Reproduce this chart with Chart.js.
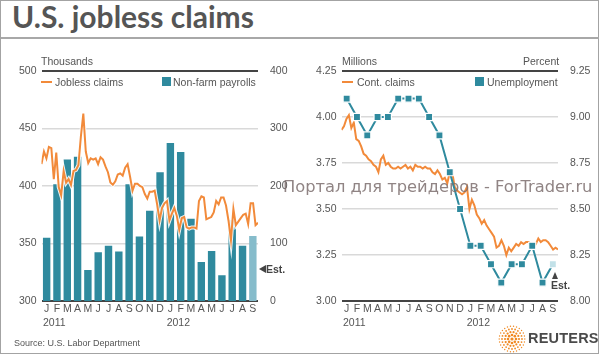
<!DOCTYPE html>
<html><head><meta charset="utf-8">
<script src="https://cdn.jsdelivr.net/npm/chart.js@4.4.1/dist/chart.umd.min.js"></script>
<style>
html,body{margin:0;padding:0;background:#fff;}
#wrap{position:relative;width:600px;height:355px;overflow:hidden;font-family:'Liberation Sans',Arial,sans-serif;color:#555;}
#frame{position:absolute;left:0;top:0;width:597px;height:352px;border:1.5px solid #a3a3a3;box-sizing:content-box;}
#title{position:absolute;left:12px;top:-2px;font:bold 30px 'Lato';color:#555;white-space:nowrap;}
#rule{position:absolute;left:1px;top:37px;width:598px;height:1.5px;background:#a8a8a8;}
.t{position:absolute;font-size:10.5px;line-height:12px;white-space:nowrap;color:#555;}
.dash{position:absolute;height:2px;width:11px;background:#f28a3a;}
.sq{position:absolute;width:9px;height:9px;background:#2f8a9e;}
canvas{position:absolute;}
#wm{position:absolute;left:283px;top:177px;font:16.3px 'DejaVu Sans';color:rgba(125,110,110,0.85);white-space:nowrap;}
.est{position:absolute;font:bold 10.5px 'Liberation Sans';color:#444;line-height:12px;}
#reuters{position:absolute;left:528px;top:330px;font:bold 14.5px 'Liberation Sans';color:#4a4a4a;letter-spacing:0.2px;}
</style>
</head><body>
<div id="wrap">
  <div id="frame"></div>
  <div id="title">U.S. jobless claims</div>
  <div id="rule"></div>
  <canvas id="cL" width="300" height="290" style="left:0;top:48px;"></canvas>
  <canvas id="cR" width="300" height="290" style="left:300px;top:48px;"></canvas>

  <div class="t" style="left:41px;top:55px;">Thousands</div>
  <div class="dash" style="left:41px;top:81px;"></div>
  <div class="t" style="left:55px;top:76px;">Jobless claims</div>
  <div class="sq" style="left:162px;top:77px;"></div>
  <div class="t" style="left:173px;top:76px;">Non-farm payrolls</div>

  <div class="t" style="left:342px;top:55px;">Millions</div>
  <div class="t" style="left:523px;top:55px;">Percent</div>
  <div class="dash" style="left:342px;top:81px;"></div>
  <div class="t" style="left:357px;top:76px;">Cont. claims</div>
  <div class="sq" style="left:475px;top:77px;"></div>
  <div class="t" style="left:487px;top:76px;">Unemployment</div>

  <div style="position:absolute;left:259px;top:265px;width:0;height:0;border-top:4px solid transparent;border-bottom:4px solid transparent;border-right:7px solid #444;"></div>
  <div class="est" style="left:266px;top:263px;">Est.</div>
  <div style="position:absolute;left:552px;top:272px;width:0;height:0;border-left:3.5px solid transparent;border-right:3.5px solid transparent;border-bottom:7px solid #444;"></div>
  <div class="est" style="left:551px;top:279px;">Est.</div>

  <div class="t" style="left:14px;top:337px;font-size:9px;">Source: U.S. Labor Department</div>
  <canvas id="logo" width="28" height="28" style="left:498px;top:325px;"></canvas>
  <div id="reuters">REUTERS</div>
  <div id="wm">Портал для трейдеров - ForTrader.ru</div>
</div>
<script>
// ---- data ----
const months = ['J','F','M','A','M','J','J','A','S','O','N','D','J','F','M','A','M','J','J','A','S'];
const yearLabels = ['2011','','','','','','','','','','','','2012','','','','','','','',''];
// Non-farm payrolls (thousands), last = estimate
const payrolls = [110,203,246,251,54,85,96,86,203,112,157,224,275,259,143,68,87,45,141,96,113];
// Weekly initial jobless claims (thousands)
const joblessClaims = [419,430,424,434,433,406,429,399,392,413,
403,406,401,413,414,418,443,463,430,420,
424,423,424,419,425,423,417,412,403,401,
404,410,411,409,416,419,408,396,402,402,
400,399,393,389,395,395,396,384,370,381,
385,387,370,376,381,374,362,372,373,364,
363,364,364,363,387,391,390,371,372,373,
377,387,384,390,390,383,370,353,380,366,
369,372,375,376,367,385,385,366,368];
// Weekly continuing claims (millions)
const contClaims = [3.93,3.95,3.99,4.01,3.94,3.97,3.88,3.87,3.84,3.80,
3.79,3.77,3.76,3.74,3.73,3.70,3.77,3.79,3.74,3.75,
3.73,3.72,3.72,3.73,3.72,3.73,3.74,3.72,3.73,3.71,
3.74,3.73,3.73,3.72,3.73,3.72,3.72,3.70,3.69,3.71,
3.69,3.66,3.67,3.64,3.70,3.70,3.62,3.60,3.59,3.58,
3.59,3.62,3.50,3.55,3.52,3.47,3.45,3.42,3.44,3.41,
3.39,3.37,3.35,3.29,3.30,3.33,3.30,3.25,3.29,3.27,
3.29,3.31,3.30,3.32,3.31,3.32,3.32,3.31,3.29,3.31,
3.34,3.32,3.33,3.33,3.32,3.30,3.28,3.29,3.28];
// Unemployment rate (%), last = estimate
const unemployment = [9.1,9.0,8.9,9.0,9.0,9.1,9.1,9.1,9.0,8.9,8.7,8.5,8.3,8.3,8.2,8.1,8.2,8.2,8.3,8.1,8.2];
const claimsTicks = {min:300,max:500,step:50};
const payrollTicks = {min:0,max:400,step:100};
const contTicks = {min:3.00,max:4.25,step:0.25};
const rateTicks = {min:8.00,max:9.25,step:0.25};

// ---- styles ----
const ORANGE='#f28a3a', TEAL='#2f8a9e', EST_BAR='#86bccb', EST_PT='#c2e1e8';
const DARK='#444', GRID='#d9d9d9', TXT='#555';
const FONT={family:"'Liberation Sans', Arial, sans-serif", size:10.5};

const yearPlugin = {id:'years', afterDraw(chart){
  const c=chart.ctx, xs=chart.scales.x;
  c.save(); c.font="10.5px 'Liberation Sans', Arial"; c.fillStyle=TXT;
  c.textAlign='left'; c.textBaseline='middle';
  yearLabels.forEach((t,i)=>{ if(t) c.fillText(t, xs.getPixelForValue(i)-3.7, chart.chartArea.bottom+22); });
  c.restore();
}};

function isEdge(c,t){return c.tick && (Math.abs(c.tick.value-t.min)<1e-6 || Math.abs(c.tick.value-t.max)<1e-6);}
function gridOpts(t){
  return {drawTicks:false,
    color:c=>isEdge(c,t)?DARK:GRID,
    lineWidth:c=>isEdge(c,t)?2:1.6};
}
function baseOpts(leftT,rightT,fmtL,fmtR,nWeeks){
  return {
    responsive:false, animation:false, devicePixelRatio:1,
    layout:{padding:{top:23,left:0,right:0,bottom:0}},
    plugins:{legend:{display:false},tooltip:{enabled:false}},
    scales:{
      x:{type:'category',offset:true,grid:{display:false,drawTicks:false},border:{display:false},
         ticks:{color:TXT,font:FONT,padding:2,maxRotation:0,autoSkip:false},
         afterFit:s=>{s.height=37;}},
      xw:{type:'linear',min:0,max:nWeeks-1,display:false},
      y:{position:'left',min:leftT.min,max:leftT.max,
         ticks:{stepSize:leftT.step,color:TXT,font:FONT,padding:5,callback:fmtL},
         grid:gridOpts(leftT),border:{display:false},afterFit:s=>{s.width=41.5;}},
      y2:{position:'right',min:rightT.min,max:rightT.max,
         ticks:{stepSize:rightT.step,color:TXT,font:FONT,padding:4,callback:fmtR},
         grid:{display:false},border:{display:false},afterFit:s=>{s.width=42;}}
    }
  };
}

new Chart(document.getElementById('cL'),{
  data:{labels:months,datasets:[
    {type:'line',data:joblessClaims.map((v,i)=>({x:i,y:v})),xAxisID:'xw',yAxisID:'y',
     borderColor:ORANGE,borderWidth:2,pointRadius:0,tension:0,order:0},
    {type:'line',data:joblessClaims.map((v,i)=>({x:i,y:v})),xAxisID:'xw',yAxisID:'y',
     borderColor:'rgba(255,255,255,0.9)',borderWidth:4,pointRadius:0,tension:0,order:1},
    {type:'bar',data:payrolls,xAxisID:'x',yAxisID:'y2',grouped:false,
     backgroundColor:c=>c.dataIndex===payrolls.length-1?EST_BAR:TEAL,
     barPercentage:0.72,categoryPercentage:1,order:2}
  ]},
  options:baseOpts(claimsTicks,payrollTicks,v=>v,v=>v,joblessClaims.length),
  plugins:[yearPlugin]
});

new Chart(document.getElementById('cR'),{
  data:{labels:months,datasets:[
    {type:'line',data:unemployment,xAxisID:'x',yAxisID:'y2',
     borderColor:TEAL,borderWidth:2,tension:0,pointStyle:'rect',pointRadius:5,
     pointBackgroundColor:c=>c.dataIndex===unemployment.length-1?EST_PT:TEAL,
     pointBorderColor:'#fff',pointBorderWidth:1.2,order:0},
    {type:'line',data:contClaims.map((v,i)=>({x:i,y:v})),xAxisID:'xw',yAxisID:'y',
     borderColor:ORANGE,borderWidth:2,pointRadius:0,tension:0,order:1}
  ]},
  options:baseOpts(contTicks,rateTicks,v=>Number(v).toFixed(2),v=>Number(v).toFixed(2),contClaims.length),
  plugins:[yearPlugin]
});

// Reuters logo dots
(function(){
  const c=document.getElementById('logo').getContext('2d');
  c.fillStyle='#f08a24';
  const cx=14,cy=14;
  c.beginPath();c.arc(cx,cy,1.6,0,Math.PI*2);c.fill();
  const rings=[[4,8,1.3],[7,14,1.1],[10,20,0.9],[12.8,26,0.7]];
  rings.forEach(([r,n,s])=>{for(let k=0;k<n;k++){const a=k/n*Math.PI*2;c.beginPath();c.arc(cx+r*Math.cos(a),cy+r*Math.sin(a),s,0,Math.PI*2);c.fill();}});
})();
</script>
</body></html>
